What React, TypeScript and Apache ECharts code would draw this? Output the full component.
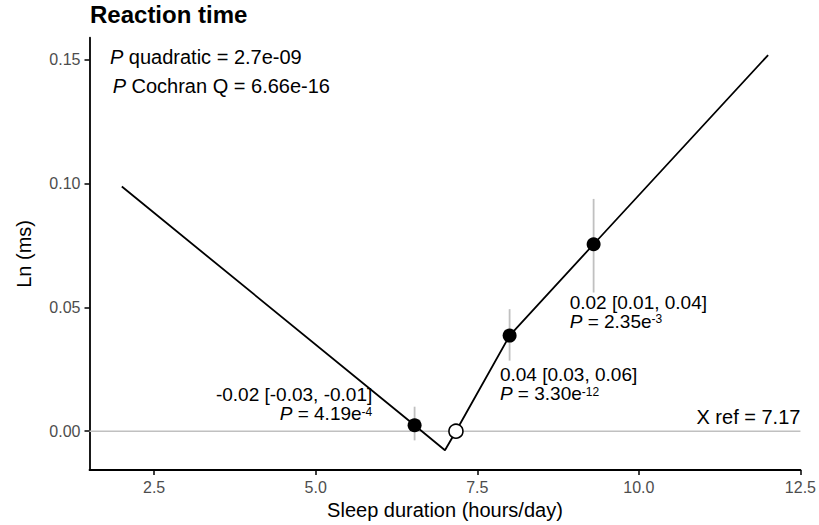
import React, { useEffect, useRef } from "react";
import * as echarts from "echarts";

// Fitted piecewise curve (sleep duration vs. Ln reaction time)
const lineX = [2.0, 6.53, 7.0, 7.17, 8.0, 9.3, 12.0];
const lineY = [0.0988, 0.0024, -0.0077, 0.0, 0.0386, 0.0755, 0.1519];

// Point estimates with 95% CI
const estX = [6.53, 8.0, 9.3];
const estY = [0.0024, 0.0386, 0.0755];
const ciLow = [-0.0037, 0.0285, 0.056];
const ciHigh = [0.0099, 0.0493, 0.0938];

// Reference point
const refX = 7.17;
const refY = 0.0;

// Annotation texts
const estText = ["-0.02 [-0.03, -0.01]", "0.04 [0.03, 0.06]", "0.02 [0.01, 0.04]"];
const pMant = ["4.19", "3.30", "2.35"];
const pExp = ["-4", "-12", "-3"];
const pQuadratic = "2.7e-09";
const pCochran = "6.66e-16";
const refText = "X ref = 7.17";

// Tick values
const xTicks = [2.5, 5.0, 7.5, 10.0, 12.5];
const yTicks = [0.0, 0.05, 0.1, 0.15];

// Annotation anchors (data coordinates)
const estLabelX = [5.875, 7.85, 8.93];
const estLabelY1 = [0.0149, 0.0229, 0.052];
const estLabelY2 = [0.0071, 0.0151, 0.0444];
const estLabelAlign = ["right", "left", "left"];
const headerX = [1.816, 1.858];
const headerY = [0.1512, 0.1394];
const refLabelX = 12.5;
const refLabelY = 0.0058;

const FONT = "'Liberation Sans', Arial, Helvetica, sans-serif";

export default function App() {
  const ref = useRef<HTMLDivElement>(null);

  useEffect(() => {
    if (!ref.current) return;
    const chart = echarts.init(ref.current, undefined, { renderer: "svg" });

    const rich = {
      it: { fontStyle: "italic", fontFamily: FONT, fontSize: 19, color: "#000", lineHeight: 16 },
      n: { fontFamily: FONT, fontSize: 19, color: "#000", lineHeight: 16 },
      sup: { fontFamily: FONT, fontSize: 12, color: "#000", lineHeight: 11, verticalAlign: "top" },
      it20: { fontStyle: "italic", fontFamily: FONT, fontSize: 20, color: "#000", lineHeight: 20 },
      n20: { fontFamily: FONT, fontSize: 20, color: "#000", lineHeight: 20 },
    };

    type Ann = { x: number; y: number; text: string; align: string };
    const anns: Ann[] = [];
    for (let i = 0; i < estText.length; i++) {
      anns.push({ x: estLabelX[i], y: estLabelY1[i], text: "{n|" + estText[i] + "}", align: estLabelAlign[i] });
      anns.push({
        x: estLabelX[i],
        y: estLabelY2[i],
        text: "{it|P}{n| = " + pMant[i] + "e}{sup|" + pExp[i] + "}",
        align: estLabelAlign[i],
      });
    }
    anns.push({ x: headerX[0], y: headerY[0], text: "{it20|P}{n20| quadratic = " + pQuadratic + "}", align: "left" });
    anns.push({ x: headerX[1], y: headerY[1], text: "{it20|P}{n20| Cochran Q = " + pCochran + "}", align: "left" });
    anns.push({ x: refLabelX, y: refLabelY, text: "{n20|" + refText + "}", align: "right" });

    const axisLineStyle = { color: "#000", width: 1.8 };

    chart.setOption({
      animation: false,
      backgroundColor: "#fff",
      title: {
        text: "Reaction time",
        left: 90,
        top: 2,
        padding: 0,
        textStyle: { fontSize: 24, fontWeight: "bold", color: "#000", fontFamily: FONT },
      },
      grid: { left: 89.5, right: 16.3, top: 37.7, bottom: 53.3, containLabel: false },
      xAxis: {
        type: "value",
        min: 1.5,
        max: 12.5,
        name: "Sleep duration (hours/day)",
        nameLocation: "middle",
        nameGap: 29,
        nameTextStyle: { fontSize: 20, color: "#000", fontFamily: FONT },
        axisLine: { show: true, onZero: false, lineStyle: axisLineStyle },
        axisTick: { show: true, length: 5, lineStyle: { color: "#000", width: 1.5 }, customValues: xTicks },
        axisLabel: {
          show: true,
          margin: 9,
          fontSize: 16,
          color: "#4d4d4d",
          fontFamily: FONT,
          customValues: xTicks,
          formatter: (v: number) => v.toFixed(1),
        },
        splitLine: { show: false },
      },
      yAxis: {
        type: "value",
        min: -0.0157,
        max: 0.1589,
        name: "Ln (ms)",
        nameLocation: "middle",
        nameGap: 56,
        nameRotate: 90,
        nameTextStyle: { fontSize: 20, color: "#000", fontFamily: FONT },
        axisLine: { show: true, onZero: false, lineStyle: axisLineStyle },
        axisTick: { show: true, length: 5, lineStyle: { color: "#000", width: 1.5 }, customValues: yTicks },
        axisLabel: {
          show: true,
          margin: 9,
          fontSize: 16,
          color: "#4d4d4d",
          fontFamily: FONT,
          customValues: yTicks,
          formatter: (v: number) => v.toFixed(2),
        },
        splitLine: { show: false },
      },
      series: [
        {
          type: "line",
          data: [
            [1.5, 0],
            [12.5, 0],
          ],
          symbol: "none",
          lineStyle: { color: "#c0c0c0", width: 1.6 },
          silent: true,
          z: 1,
        },
        {
          type: "custom",
          data: estX.map((x, i) => [x, ciLow[i], ciHigh[i]]),
          renderItem: (_params: any, api: any) => {
            const p1 = api.coord([api.value(0), api.value(1)]);
            const p2 = api.coord([api.value(0), api.value(2)]);
            return {
              type: "line",
              shape: { x1: p1[0], y1: p1[1], x2: p2[0], y2: p2[1] },
              style: { stroke: "#c0c0c0", lineWidth: 1.8 },
            };
          },
          z: 2,
        },
        {
          type: "line",
          data: lineX.map((x, i) => [x, lineY[i]]),
          symbol: "none",
          lineStyle: { color: "#000", width: 1.8 },
          z: 3,
        },
        {
          type: "scatter",
          data: estX.map((x, i) => [x, estY[i]]),
          symbol: "circle",
          symbolSize: 14,
          itemStyle: { color: "#000", opacity: 1 },
          z: 4,
        },
        {
          type: "scatter",
          data: [[refX, refY]],
          symbol: "circle",
          symbolSize: 14,
          itemStyle: { color: "#fff", borderColor: "#000", borderWidth: 1.6, opacity: 1 },
          z: 4,
        },
        {
          type: "custom",
          data: anns.map((a) => [a.x, a.y]),
          renderItem: (params: any, api: any) => {
            const a = anns[params.dataIndex];
            const p = api.coord([api.value(0), api.value(1)]);
            return {
              type: "text",
              x: p[0],
              y: p[1],
              style: {
                text: a.text,
                rich,
                align: a.align,
                verticalAlign: "middle",
                fontFamily: FONT,
                fontSize: 19,
                fill: "#000",
              },
            };
          },
          z: 5,
        },
      ],
    });

    return () => chart.dispose();
  }, []);

  return (
    <div
      ref={ref}
      style={{ position: "absolute", left: 0, top: 0, width: 819, height: 525, background: "#fff" }}
    />
  );
}
